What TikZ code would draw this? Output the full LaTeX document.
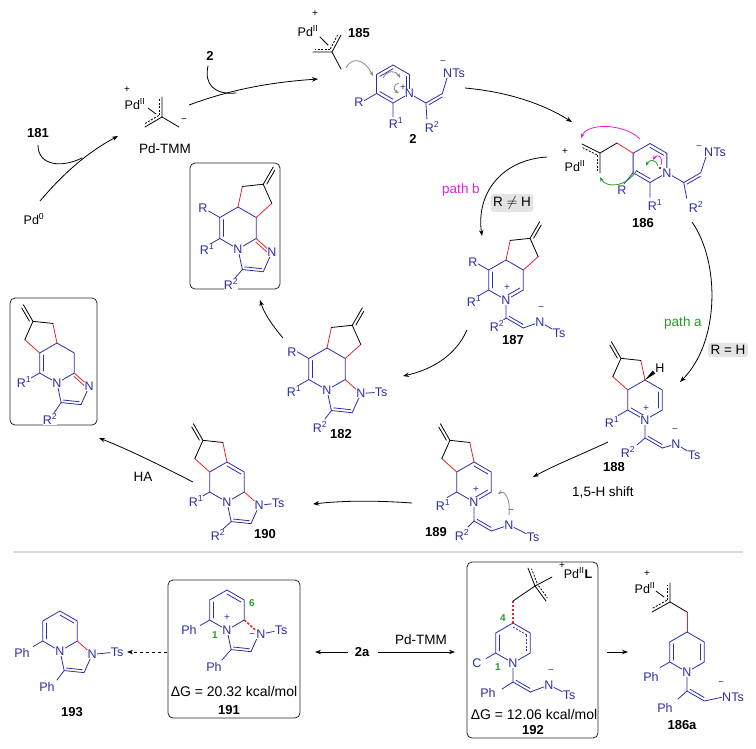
\documentclass[tikz,border=0pt]{standalone}
\usepackage{fontspec}
\setmainfont{Liberation Sans}
\usepackage{tikz}
\usetikzlibrary{arrows.meta,calc,positioning}
\definecolor{chemBlue}{HTML}{2E2EA6}
\definecolor{chemRed}{HTML}{E3262B}
\definecolor{curlMagenta}{HTML}{E41EE0}
\definecolor{curlGreen}{HTML}{249C24}
\definecolor{curlGray}{HTML}{8A8A8A}
\definecolor{condGray}{HTML}{E4E4E4}
\definecolor{ruleGray}{HTML}{DCDCDC}
\tikzset{
  bond/.style = {line width=0.8pt, line cap=round, line join=round},
  blueBond/.style = {bond, chemBlue},
  redBond/.style = {bond, chemRed},
  blackBond/.style = {bond, black},
  allylBond/.style = {bond, black, line cap=butt, dash pattern=on 2pt off 1.5pt},% partial allyl bond
  formBond/.style = {chemRed, line width=1.6pt, dash pattern=on 2.5pt off 1.5pt},% bond being formed
  atomNode/.style = {inner sep=0.3pt, fill=white, text=chemBlue, font=\fontsize{12.5}{13}\selectfont},
  pdNode/.style = {inner sep=0.3pt, text=black, font=\fontsize{12.5}{13}\selectfont},
  chargeNode/.style = {inner sep=0pt, font=\fontsize{10}{10}\selectfont},
  numNode/.style = {inner sep=1pt, font=\fontsize{13}{14}\selectfont\bfseries},
  textNode/.style = {inner sep=1pt, font=\fontsize{13.5}{14}\selectfont},
  energyNode/.style = {inner sep=0pt, font=\fontsize{14}{15}\selectfont},
  siteNode/.style = {inner sep=0pt, text=curlGreen, font=\fontsize{10}{10}\selectfont\bfseries},
  condBox/.style = {fill=condGray, rounded corners=3pt, inner sep=2.5pt, font=\fontsize{13.5}{14}\selectfont},
  productBox/.style = {draw=black!85, line width=0.8pt, rounded corners=5pt},
  rxnArrow/.style = {line width=0.8pt, -{Stealth[length=6pt,width=4.5pt]}},
  curlArrow/.style = {line width=0.8pt, -{Stealth[length=4.5pt,width=3.5pt]}},
}
\newcommand\hexring[3]{% prefix, centre, bond length
  \coordinate (#1c) at (#2);
  \foreach \pos/\ang in {t/90,ur/30,lr/-30,b/-90,ll/210,ul/150}
    \coordinate (#1\pos) at ($(#2)+(\ang:#3pt)$);}
\newcommand\pentring[3]{% five ring on edge A-B
  \coordinate (#31) at ($(#1)!1!108:(#2)$);
  \coordinate (#33) at ($(#2)!1!-108:(#1)$);
  \coordinate (#32) at ($(#33)!1!-108:(#2)$);
  \coordinate (#3m) at ($(#1)!.5!(#2)$);
  \coordinate (#3c) at ($(#3m)!.447!(#32)$);
  \coordinate (#3x) at ($(#32)!-.62!(#3m)$);}
\newcommand\inbond[4][blueBond]{\draw[#1] ($(#2)!.2!(#4)$) -- ($(#3)!.2!(#4)$);}
\newcommand\sidebond[4][blueBond]{\draw[#1] ($(#2)!.1!(#3)!3pt!#4:(#3)$) -- ($(#2)!.9!(#3)!3pt!#4:(#3)$);}
\begin{document}
\begin{tikzpicture}[x=1pt, y=-1pt]
\useasboundingbox (0,0) rectangle (756,748);

% Pd-TMM
\coordinate (paC) at (162,117);
\coordinate (paU) at (162,97);
\coordinate (paL) at (145,127);
\coordinate (paR) at (179,127);
\draw[blackBond] (paU) -- (paC) -- (paL) (paC) -- (paR);
\sidebond[allylBond]{paC}{paU}{90}
\sidebond[allylBond]{paC}{paL}{-90}
\draw[blackBond] (148,108) -- (156,114);
\node[pdNode] (pdA) at (135,104) {Pd\textsuperscript{II}};
\node[chargeNode] at (127,90) {+};
\node[chargeNode] at (184,121) {−};
\node[textNode] (pdtmm) at (165,149) {Pd-TMM};
\node[numNode] (l181) at (38,133) {181};
\node[pdNode] (pd0) at (34,219) {Pd\textsuperscript{0}};
\node[numNode] (l2top) at (210,56) {2};
\coordinate (pdStart) at (40,201);
\coordinate (pdEnd) at (118,136);
\draw[rxnArrow] (pdStart) .. controls (68,168) and (92,150) .. (pdEnd);
\draw[bond] (38,145) .. controls (38,166) and (62,168) .. (82,158);
\coordinate (tmmStart) at (189,105);
\coordinate (tmmEnd) at (318,79);
\draw[rxnArrow] (tmmStart) .. controls (235,88) and (275,82) .. (tmmEnd);
\draw[bond] (208,66) .. controls (204,84) and (214,95) .. (236,93);

% 185
\coordinate (pbC) at (332,52);
\coordinate (pbU) at (341,35);
\coordinate (pbL) at (313,52);
\coordinate (pbD) at (341,69);
\coordinate (pbCurl) at (346,68);
\draw[blackBond] (pbU) -- (pbC) -- (pbL) (pbC) -- (pbD);
\sidebond[allylBond]{pbC}{pbL}{-90}
\sidebond[allylBond]{pbC}{pbU}{90}
\draw[blackBond] (320,37) -- (328,45);
\node[pdNode] (pdB) at (308,31) {Pd\textsuperscript{II}};
\node[chargeNode] at (315,14) {+};
\node[numNode] (l185) at (359,33) {185};
\draw[curlArrow, curlGray] (pbCurl) .. controls (351,57) and (364,58) .. (373,76);

% 2
\hexring{A}{393,84}{19}
\draw[blueBond] (At) -- (Aur) -- (Alr) -- (Ab) -- (All) -- (Aul) -- cycle;
\inbond{Aul}{At}{Ac}
\inbond{Aur}{Alr}{Ac}
\inbond{All}{Ab}{Ac}
\coordinate (Av1) at ($(Alr)+(-30:19pt)$);
\coordinate (Av2) at ($(Av1)+(30:19pt)$);
\draw[blueBond] (All) -- ++(210:15pt) (Ab) -- ++(0,14) (Alr) -- (Av1) -- (Av2) -- (447,78) (Av1) -- ++(1,16);
\sidebond{Av1}{Av2}{-90}
\node[atomNode] at (Alr) {N};
\node[chargeNode, text=chemBlue] at (403,88) {+};
\node[atomNode] at (359,102) {R};
\node[atomNode] at (396,123) {R\textsuperscript{1}};
\node[atomNode] at (432,127) {R\textsuperscript{2}};
\node[atomNode] (tsA) at (454,73) {NTs};
\node[chargeNode, text=chemBlue] at (443,63) {−};
\node[numNode] (l2) at (413,139) {2};
\draw[curlArrow, curlGray] (383,78) .. controls (387,70) and (396,70) .. (400,78);
\draw[curlArrow, curlGray] (399,83) .. controls (393,84) and (393,90) .. (399,93);
\coordinate (twoOut) at (465,88);
\coordinate (dIn) at (572,122);
\draw[rxnArrow] (twoOut) .. controls (510,92) and (545,105) .. (dIn);

% 186
\hexring{D}{650,163}{19.5}
\draw[blueBond] (Dt) -- (Dur) -- (Dlr) -- (Db) -- (Dll) -- (Dul) -- cycle;
\inbond{Dt}{Dur}{Dc}
\inbond{Dll}{Db}{Dc}
\coordinate (pcC) at (600,153);
\coordinate (pcL) at (582,144);
\coordinate (pcD) at (600,173);
\coordinate (pcR) at (617,143);
\draw[blackBond] (pcL) -- (pcC) -- (pcD) (pcC) -- (pcR);
\draw[redBond] (pcR) -- (Dul);
\sidebond[allylBond]{pcC}{pcL}{90}
\sidebond[allylBond]{pcC}{pcD}{-90}
\coordinate (Dv1) at ($(Dlr)+(-30:19.5pt)$);
\coordinate (Dv2) at ($(Dv1)+(30:19.5pt)$);
\draw[blueBond] (Dll) -- (624,184) (Db) -- ++(0,15) (Dlr) -- (Dv1) -- (Dv2) -- (706,157) (Dv1) -- ++(3,16);
\sidebond{Dv1}{Dv2}{-90}
\node[atomNode] at (Dlr) {N};
\fill (660,168) circle (1.1pt);
\node[atomNode] at (622,190) {R};
\node[atomNode] at (655,205) {R\textsuperscript{1}};
\node[atomNode] at (696,207) {R\textsuperscript{2}};
\node[atomNode] at (715,152) {NTs};
\node[chargeNode, text=chemBlue] at (699,148) {−};
\node[pdNode] at (575,166) {Pd\textsuperscript{II}};
\node[chargeNode] at (565,152) {+};
\node[numNode] (l186) at (643,223) {186};
\draw[curlArrow, curlMagenta] (640,139) .. controls (625,124) and (588,122) .. (581,138);
\draw[curlArrow, curlMagenta] (661,165) .. controls (664,157) and (657,153) .. (653,160);
\draw[curlArrow, curlGreen] (637,170) .. controls (626,188) and (606,188) .. (600,177);
\draw[curlArrow, curlGreen] (658,166) .. controls (656,159) and (649,159) .. (646,166);

% path a / path b
\coordinate (dOutA) at (692,222);
\coordinate (mIn) at (680,382);
\draw[rxnArrow] (dOutA) .. controls (720,262) and (720,342) .. (mIn);
\node[textNode, text=curlGreen] (pathA) at (683,323) {path a};
\node[condBox] (condA) at (728,350) {R = H};
\coordinate (dOutB) at (547,157);
\coordinate (eIn) at (482,236);
\draw[rxnArrow] (dOutB) .. controls (500,160) and (476,195) .. (eIn);
\node[textNode, text=curlMagenta] (pathB) at (461,190) {path b};
\node[condBox] (condB) at (512,203) {R $\neq$ H};

% 187
\hexring{E}{506,280}{20}
\pentring{Et}{Eur}{Ep}
\draw[blueBond] (Et) -- (Eur) -- (Elr) -- (Eb) -- (Ell) -- (Eul) -- cycle;
\inbond{Eul}{Ell}{Ec}
\inbond{Eb}{Elr}{Ec}
\draw[redBond] (Et) -- (Ep1) (Ep3) -- (Eur);
\draw[blackBond] (Ep1) -- (Ep2) -- (Ep3) (Ep2) -- (Epx);
\sidebond[blackBond]{Ep2}{Epx}{-90}
\coordinate (Ev1) at ($(Eb)+(0,18)$);
\coordinate (Ev2) at ($(Ev1)+(-30:20pt)$);
\draw[blueBond] (Eul) -- ++(150:13pt) (Ell) -- ++(210:12pt) (Eb) -- (Ev1) -- (Ev2) (Ev1) -- ++(-5,4);
\sidebond{Ev1}{Ev2}{90}
\node[atomNode] at (Eb) {N};
\node[chargeNode, text=chemBlue] at (507,288) {+};
\node[atomNode] at (473,262) {R};
\node[atomNode] at (474,301) {R\textsuperscript{1}};
\node[atomNode] at (497,326) {R\textsuperscript{2}};
\node[atomNode] (nE) at (540,322) {N};
\node[atomNode] (tsE) at (559,333) {Ts};
\draw[blueBond] (Ev2) -- (nE) (nE) -- (tsE);
\node[chargeNode, text=chemBlue] at (541,309) {−};
\node[numNode] (l187) at (513,340) {187};
\coordinate (eOut) at (467,330);
\coordinate (fIn) at (403,376);
\draw[rxnArrow] (eOut) .. controls (455,357) and (430,370) .. (fIn);

% 182
\hexring{F}{327,369}{21}
\pentring{Ft}{Fur}{Fp}
\pentring{Flr}{Fb}{Fq}
\draw[blueBond] (Ft) -- (Fur) -- (Flr) -- (Fb) -- (Fll) -- (Ful) -- cycle;
\inbond{Ful}{Fll}{Fc}
\draw[redBond] (Ft) -- (Fp1) (Fp3) -- (Fur) (Flr) -- (Fq1);
\draw[blackBond] (Fp1) -- (Fp2) -- (Fp3) (Fp2) -- (Fpx);
\sidebond[blackBond]{Fp2}{Fpx}{-90}
\draw[blueBond] (Fq1) -- (Fq2) -- (Fq3) -- (Fb) (Fq3) -- (325,419);
\inbond{Fq2}{Fq3}{Fqc}
\draw[blueBond] (Ful) -- ++(150:14pt) (Fll) -- ++(210:12pt);
\node[atomNode] at (Fb) {N};
\node[atomNode] (nF) at (Fq1) {N};
\node[atomNode] (tsF) at (381,392) {Ts};
\draw[blueBond] (nF) -- (tsF);
\node[atomNode] at (292,352) {R};
\node[atomNode] at (294,391) {R\textsuperscript{1}};
\node[atomNode] at (320,427) {R\textsuperscript{2}};
\node[numNode] (l182) at (341,434) {182};
\coordinate (fOut) at (283,338);
\coordinate (gIn) at (260,300);
\draw[rxnArrow] (fOut) .. controls (272,325) and (264,313) .. (gIn);

% boxed product (top)
\draw[productBox] (190,163) rectangle (280,289);
\hexring{G}{238,228}{21}
\pentring{Gt}{Gur}{Gp}
\pentring{Glr}{Gb}{Gq}
\draw[blueBond] (Gt) -- (Gur) -- (Glr) -- (Gb) -- (Gll) -- (Gul) -- cycle;
\inbond{Gul}{Gll}{Gc}
\draw[redBond] (Gt) -- (Gp1) (Gp3) -- (Gur) (Glr) -- (Gq1);
\inbond[redBond]{Glr}{Gq1}{Gqc}
\draw[blackBond] (Gp1) -- (Gp2) -- (Gp3) (Gp2) -- (Gpx);
\sidebond[blackBond]{Gp2}{Gpx}{-90}
\draw[blueBond] (Gq1) -- (Gq2) -- (Gq3) -- (Gb) (Gq3) -- (235,278);
\inbond{Gq2}{Gq3}{Gqc}
\draw[blueBond] (Gul) -- ++(150:13pt) (Gll) -- ++(210:12pt);
\node[atomNode] at (Gb) {N};
\node[atomNode] at (Gq1) {N};
\node[atomNode] at (203,208) {R};
\node[atomNode] at (207,249) {R\textsuperscript{1}};
\node[atomNode] at (231,284) {R\textsuperscript{2}};

% boxed product (left)
\draw[productBox] (10,298) rectangle (97,425);
\hexring{H}{57,363}{20}
\pentring{Hul}{Ht}{Hp}
\pentring{Hlr}{Hb}{Hq}
\draw[blueBond] (Ht) -- (Hur) -- (Hlr) -- (Hb) -- (Hll) -- (Hul) -- cycle;
\inbond{Hul}{Hll}{Hc}
\draw[redBond] (Hul) -- (Hp1) (Hp3) -- (Ht) (Hlr) -- (Hq1);
\inbond[redBond]{Hlr}{Hq1}{Hqc}
\draw[blackBond] (Hp1) -- (Hp2) -- (Hp3) (Hp2) -- (Hpx);
\sidebond[blackBond]{Hp2}{Hpx}{90}
\draw[blueBond] (Hq1) -- (Hq2) -- (Hq3) -- (Hb) (Hq3) -- (54,413);
\inbond{Hq2}{Hq3}{Hqc}
\draw[blueBond] (Hll) -- ++(210:12pt);
\node[atomNode] at (Hb) {N};
\node[atomNode] at (Hq1) {N};
\node[atomNode] at (24,382) {R\textsuperscript{1}};
\node[atomNode] at (50,419) {R\textsuperscript{2}};

% 190
\hexring{K}{227,482}{20}
\pentring{Kul}{Kt}{Kp}
\pentring{Klr}{Kb}{Kq}
\draw[blueBond] (Kt) -- (Kur) -- (Klr) -- (Kb) -- (Kll) -- (Kul) -- cycle;
\inbond{Kt}{Kur}{Kc}
\draw[redBond] (Kul) -- (Kp1) (Kp3) -- (Kt) (Klr) -- (Kq1);
\draw[blackBond] (Kp1) -- (Kp2) -- (Kp3) (Kp2) -- (Kpx);
\sidebond[blackBond]{Kp2}{Kpx}{90}
\draw[blueBond] (Kq1) -- (Kq2) -- (Kq3) -- (Kb) (Kq3) -- (223,529);
\inbond{Kq2}{Kq3}{Kqc}
\draw[blueBond] (Kll) -- ++(210:11pt);
\node[atomNode] at (Kb) {N};
\node[atomNode] (nK) at (Kq1) {N};
\node[atomNode] (tsK) at (278,503) {Ts};
\draw[blueBond] (nK) -- (tsK);
\node[atomNode] at (196,501) {R\textsuperscript{1}};
\node[atomNode] at (218,535) {R\textsuperscript{2}};
\node[numNode] (l190) at (265,534) {190};
\coordinate (kOut) at (193,482);
\coordinate (hIn) at (99,438);
\draw[rxnArrow] (kOut) .. controls (160,465) and (125,448) .. (hIn);
\node[textNode] (ha) at (143,477) {HA};

% 188
\hexring{M}{645,400}{20}
\pentring{Mul}{Mt}{Mp}
\draw[blueBond] (Mt) -- (Mur) -- (Mlr) -- (Mb) -- (Mll) -- (Mul) -- cycle;
\inbond{Mur}{Mlr}{Mc}
\inbond{Mll}{Mb}{Mc}
\draw[redBond] (Mul) -- (Mp1) (Mp3) -- (Mt);
\draw[blackBond] (Mp1) -- (Mp2) -- (Mp3) (Mp2) -- (Mpx);
\sidebond[blackBond]{Mp2}{Mpx}{90}
\coordinate (MH) at (654,372);
\fill (Mt) -- ($(MH)!2pt!90:(Mt)$) -- ($(MH)!2pt!-90:(Mt)$) -- cycle;
\node[pdNode] at (660,368) {H};
\coordinate (Mv1) at ($(Mb)+(0,18)$);
\coordinate (Mv2) at ($(Mv1)+(-30:20pt)$);
\draw[blueBond] (Mll) -- ++(210:11pt) (Mb) -- (Mv1) -- (Mv2) (Mv1) -- ++(-8,7);
\sidebond{Mv1}{Mv2}{90}
\node[atomNode] at (Mb) {N};
\node[chargeNode, text=chemBlue] at (646,409) {+};
\node[atomNode] at (612,422) {R\textsuperscript{1}};
\node[atomNode] at (628,452) {R\textsuperscript{2}};
\node[atomNode] (nM) at (676,444) {N};
\node[atomNode] (tsM) at (694,455) {Ts};
\draw[blueBond] (Mv2) -- (nM) (nM) -- (tsM);
\node[chargeNode, text=chemBlue] at (675,431) {−};
\node[numNode] (l188) at (614,467) {188};
\coordinate (mOut) at (608,442);
\coordinate (nIn) at (533,477);
\draw[rxnArrow] (mOut) .. controls (580,455) and (555,465) .. (nIn);
\node[textNode] (shift) at (603,492) {1,5-H shift};

% 189
\hexring{N}{474,482}{20}
\pentring{Nul}{Nt}{Np}
\draw[blueBond] (Nt) -- (Nur) -- (Nlr) -- (Nb) -- (Nll) -- (Nul) -- cycle;
\inbond{Nt}{Nur}{Nc}
\inbond{Nlr}{Nb}{Nc}
\draw[redBond] (Nul) -- (Np1) (Np3) -- (Nt);
\draw[blackBond] (Np1) -- (Np2) -- (Np3) (Np2) -- (Npx);
\sidebond[blackBond]{Np2}{Npx}{90}
\coordinate (Nv1) at ($(Nb)+(0,19)$);
\coordinate (Nv2) at ($(Nv1)+(-30:20pt)$);
\draw[blueBond] (Nll) -- ++(210:11pt) (Nb) -- (Nv1) -- (Nv2) (Nv1) -- ++(-6,6);
\sidebond{Nv1}{Nv2}{90}
\node[atomNode] at (Nb) {N};
\node[chargeNode, text=chemBlue] at (476,490) {+};
\node[atomNode] at (443,505) {R\textsuperscript{1}};
\node[atomNode] at (462,535) {R\textsuperscript{2}};
\node[atomNode] (nN) at (509,525) {N};
\node[atomNode] (tsN) at (533,537) {Ts};
\draw[blueBond] (Nv2) -- (nN) (nN) -- (tsN);
\node[chargeNode, text=chemBlue] at (511,512) {−};
\node[numNode] (l189) at (436,532) {189};
\draw[curlArrow, curlGray] (509,515) .. controls (511,498) and (504,490) .. (498,494);
\coordinate (nOut) at (412,503);
\coordinate (kIn) at (313,504);
\draw[rxnArrow] (nOut) .. controls (370,500) and (340,501) .. (kIn);

% separator
\draw[ruleGray, line width=2pt] (13,552) -- (743,552);

% 193
\hexring{S}{60,631}{20}
\pentring{Slr}{Sb}{Sq}
\draw[blueBond] (St) -- (Sur) -- (Slr) -- (Sb) -- (Sll) -- (Sul) -- cycle;
\inbond{Sul}{Sll}{Sc}
\inbond{St}{Sur}{Sc}
\draw[redBond] (Slr) -- (Sq1);
\draw[blueBond] (Sq1) -- (Sq2) -- (Sq3) -- (Sb) (Sq3) -- (57,680) (Sll) -- ++(210:11pt);
\inbond{Sq2}{Sq3}{Sqc}
\node[atomNode] at (Sb) {N};
\node[atomNode] (nS) at (Sq1) {N};
\node[atomNode] (tsS) at (117,652) {Ts};
\draw[blueBond] (nS) -- (tsS);
\node[atomNode] at (22,653) {Ph};
\node[atomNode] at (47,687) {Ph};
\node[numNode] (l193) at (72,712) {193};

% 191
\draw[productBox] (168,580) rectangle (300,718);
\hexring{U}{227,610}{20}
\pentring{Ulr}{Ub}{Uq}
\draw[blueBond] (Ut) -- (Uur) -- (Ulr) -- (Ub) -- (Ull) -- (Uul) -- cycle;
\inbond{Uul}{Ull}{Uc}
\inbond{Ut}{Uur}{Uc}
\draw[formBond] (Ulr) -- (Uq1);
\draw[blueBond] (Uq1) -- (Uq2) -- (Uq3) -- (Ub) (Uq3) -- (222,660) (Ull) -- ++(210:11pt);
\inbond{Uq2}{Uq3}{Uqc}
\node[atomNode] at (Ub) {N};
\node[chargeNode, text=chemBlue] at (227,618) {+};
\node[atomNode] (nU) at (261,634) {N};
\node[chargeNode, text=chemBlue] at (252,636) {−};
\node[atomNode] (tsU) at (281,630) {Ts};
\draw[blueBond] (nU) -- (tsU);
\node[atomNode] at (189,630) {Ph};
\node[atomNode] at (214,667) {Ph};
\node[siteNode] at (252,603) {6};
\node[siteNode] at (215,635) {1};
\node[energyNode] at (234,691) {ΔG = 20.32 kcal/mol};
\node[numNode] (l191) at (229,710) {191};
\coordinate (uOut) at (167,652);
\coordinate (sIn) at (127,652);
\draw[rxnArrow, dashed] (uOut) -- (sIn);

% 2a
\node[numNode] (l2a) at (362,652) {2a};
\draw[rxnArrow] (l2a.west) ++(-6,0) -- (315,652);
\draw[rxnArrow] (l2a.east) ++(8,0) -- (455,652);
\node[textNode] (pdtmm2) at (421,640) {Pd-TMM};

% 192
\draw[productBox] (467,562) rectangle (598,738);
\hexring{V}{513,643}{20}
\draw[blueBond] (Vt) -- (Vur) -- (Vlr) -- (Vb) -- (Vll) -- (Vul) -- cycle;
\inbond{Vul}{Vll}{Vc}
\inbond[blueBond, line cap=butt, dash pattern=on 2pt off 1.5pt]{Vt}{Vur}{Vc}
\inbond[blueBond, line cap=butt, dash pattern=on 2pt off 1.5pt]{Vur}{Vlr}{Vc}
\coordinate (Vch) at (513,601);
\draw[formBond] (Vt) -- (Vch);
\coordinate (pvC) at (535,586);
\coordinate (pvU) at (528,568);
\coordinate (pvD) at (546,601);
\draw[blackBond] (Vch) -- (pvC) -- (pvU) (pvC) -- (pvD) (pvC) -- (552,577);
\sidebond[allylBond]{pvC}{pvU}{-90}
\sidebond[allylBond]{pvC}{pvD}{90}
\node[pdNode] at (578,573) {Pd\textsuperscript{II}\textbf{L}};
\node[chargeNode] at (562,566) {+};
\coordinate (Vv1) at ($(Vb)+(0,19)$);
\coordinate (Vv2) at ($(Vv1)+(-30:20pt)$);
\draw[blueBond] (Vll) -- ++(210:11pt) (Vb) -- (Vv1) -- (Vv2) (Vv1) -- ++(-11,7);
\sidebond{Vv1}{Vv2}{90}
\node[atomNode] at (Vb) {N};
\node[atomNode] at (477,663) {C};
\node[atomNode] at (488,693) {Ph};
\node[atomNode] (nV) at (549,685) {N};
\node[atomNode] (tsV) at (569,695) {Ts};
\draw[blueBond] (Vv2) -- (nV) (nV) -- (tsV);
\node[chargeNode, text=chemBlue] at (551,672) {−};
\node[siteNode] at (503,618) {4};
\node[siteNode] at (498,667) {1};
\node[energyNode] at (534,714) {ΔG = 12.06 kcal/mol};
\node[numNode] (l192) at (533,730) {192};
\coordinate (vOut) at (607,652);
\coordinate (wIn) at (628,652);
\draw[rxnArrow] (vOut) -- (wIn);

% 186a
\hexring{W}{687,652}{20}
\draw[blueBond] (Wt) -- (Wur) -- (Wlr) -- (Wb) -- (Wll) -- (Wul) -- cycle;
\inbond{Wul}{Wll}{Wc}
\inbond{Wur}{Wlr}{Wc}
\coordinate (Wch) at (687,612);
\draw[redBond] (Wt) -- (Wch);
\coordinate (pwC) at (670,602);
\coordinate (pwU) at (670,583);
\coordinate (pwL) at (652,612);
\draw[blackBond] (Wch) -- (pwC) -- (pwU) (pwC) -- (pwL);
\sidebond[allylBond]{pwC}{pwU}{90}
\sidebond[allylBond]{pwC}{pwL}{-90}
\draw[blackBond] (656,591) -- (664,597);
\node[pdNode] at (645,588) {Pd\textsuperscript{II}};
\node[chargeNode] at (647,574) {+};
\coordinate (Wv1) at ($(Wb)+(0,19)$);
\coordinate (Wv2) at ($(Wv1)+(-30:20pt)$);
\draw[blueBond] (Wll) -- ++(210:11pt) (Wb) -- (Wv1) -- (Wv2) -- (723,697) (Wv1) -- ++(-9,8);
\sidebond{Wv1}{Wv2}{90}
\node[atomNode] at (Wb) {N};
\node[atomNode] at (651,677) {Ph};
\node[atomNode] at (665,708) {Ph};
\node[atomNode] at (733,697) {NTs};
\node[chargeNode, text=chemBlue] at (721,684) {−};
\node[numNode] (l186a) at (682,725) {186a};
\end{tikzpicture}
\end{document}
